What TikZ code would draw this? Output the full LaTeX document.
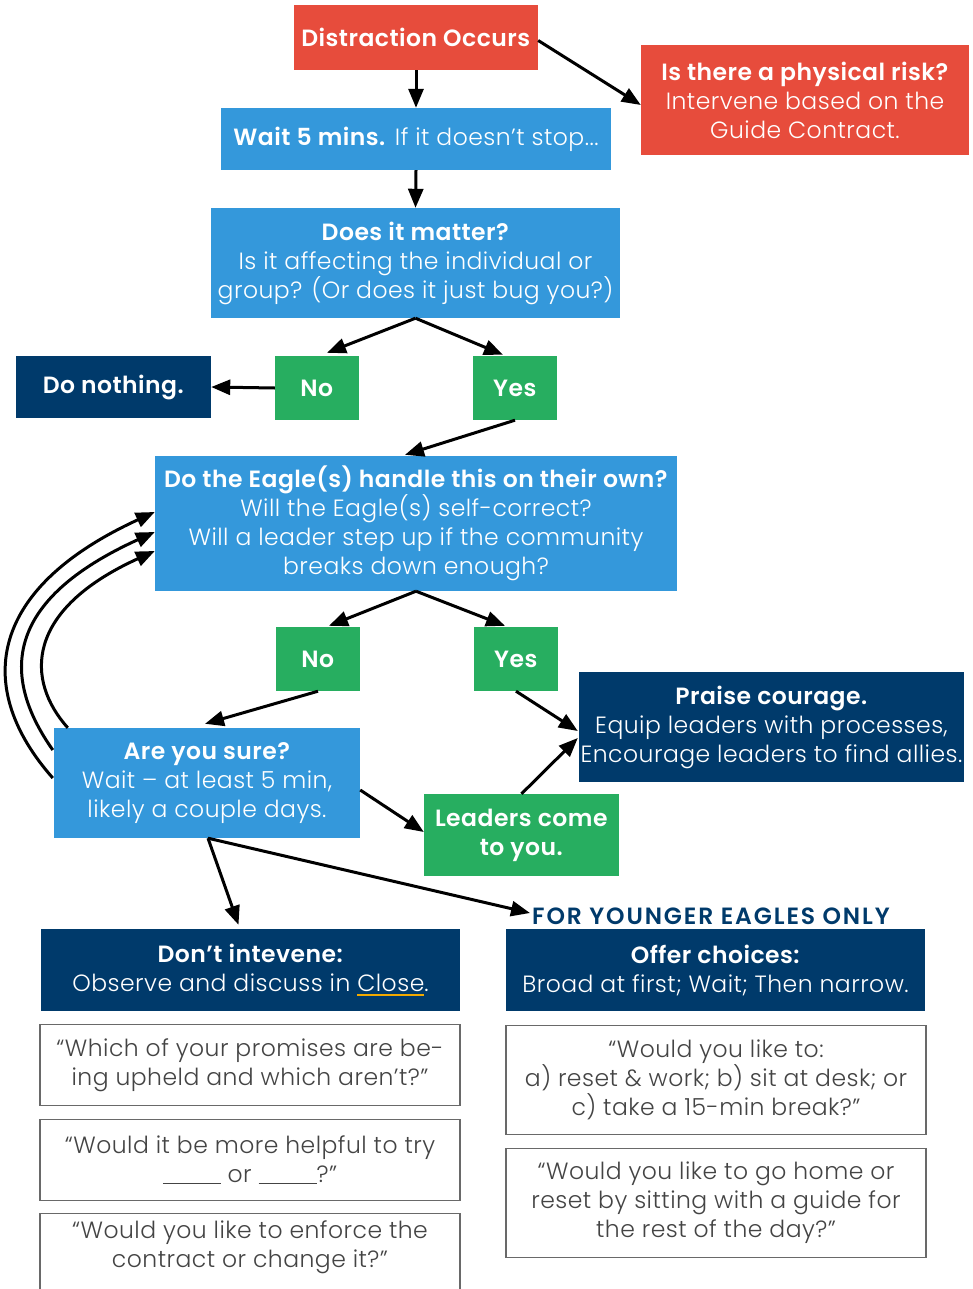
\documentclass[tikz,border=0pt]{standalone}
\usepackage{fontspec}
\setmainfont{Poppins Light}[BoldFont={Poppins SemiBold}, LetterSpace=2]
\usetikzlibrary{arrows.meta}

\definecolor{flred}{HTML}{E74C3C}
\definecolor{flblue}{HTML}{3498DB}
\definecolor{flgreen}{HTML}{27AE60}
\definecolor{flnavy}{HTML}{003A6B}
\definecolor{flgold}{HTML}{F2A900}
\definecolor{flgrey}{HTML}{444444}

\newcommand\goldline[1]{\setbox0\hbox{#1}\rlap{\textcolor{flgold}{\rule[-4pt]{\wd0}{2pt}}}\box0}
\newcommand\blankline{\rule[-2pt]{58pt}{1pt}}

\tikzset{
  base/.style={inner sep=0pt, align=center, font=\fontsize{23.5}{29}\selectfont},
  redbox/.style={base, fill=flred, text=white},
  bluebox/.style={base, fill=flblue, text=white},
  greenbox/.style={base, fill=flgreen, text=white},
  navybox/.style={base, fill=flnavy, text=white},
  quotebox/.style={base, draw=flgrey!80, line width=1.3pt, fill=white, text=flgrey},
  link/.style={line width=3pt, -{Triangle[length=19pt,width=15pt]}},
}

\begin{document}
\begin{tikzpicture}[x=1pt,y=-1pt]
\useasboundingbox (0,0) rectangle (973,1289);

% top of the chart
\node[redbox, minimum width=244, minimum height=65] (dist) at (416,37.5) {\textbf{Distraction Occurs}};
\node[redbox, minimum width=328, minimum height=110] (risk) at (805,100)
  {\textbf{Is there a physical risk?}\\Intervene based on the\\Guide Contract.};
\node[bluebox, minimum width=390, minimum height=62] (wait) at (416,139)
  {\textbf{Wait 5 mins.} If it doesn’t stop...};
\node[bluebox, minimum width=409, minimum height=110] (matter) at (415.5,263)
  {\textbf{Does it matter?}\\Is it affecting the individual or\\group? (Or does it just bug you?)};

% first decision
\node[navybox, minimum width=195, minimum height=62] (nothing) at (113.5,387) {\textbf{Do nothing.}};
\node[greenbox, minimum width=84, minimum height=64] (no1) at (317,388) {\textbf{No}};
\node[greenbox, minimum width=84, minimum height=64] (yes1) at (515,388) {\textbf{Yes}};

% second decision
\node[bluebox, minimum width=522, minimum height=135] (eagle) at (416,523.5)
  {\textbf{Do the Eagle(s) handle this on their own?}\\Will the Eagle(s) self-correct?\\Will a leader step up if the community\\breaks down enough?};
\node[greenbox, minimum width=84, minimum height=64] (no2) at (318,659) {\textbf{No}};
\node[greenbox, minimum width=84, minimum height=64] (yes2) at (516,659) {\textbf{Yes}};
\node[navybox, minimum width=385, minimum height=110] (praise) at (771.5,727)
  {\textbf{Praise courage.}\\Equip leaders with processes,\\Encourage leaders to find allies.};
\node[bluebox, minimum width=306, minimum height=110] (sure) at (207,783)
  {\textbf{Are you sure?}\\Wait – at least 5 min,\\likely a couple days.};
\node[greenbox, minimum width=195, minimum height=82] (leaders) at (521.5,835)
  {\textbf{Leaders come}\\\textbf{to you.}};

% responses
\node[base, text=flnavy, anchor=west] (younger) at (532,916)
  {\addfontfeatures{LetterSpace=8}\textbf{FOR YOUNGER EAGLES ONLY}};
\node[navybox, minimum width=419, minimum height=82] (dont) at (250.5,970)
  {\textbf{Don’t intevene:}\\Observe and discuss in \goldline{Close}.};
\node[navybox, minimum width=419, minimum height=82] (offer) at (715.5,970)
  {\textbf{Offer choices:}\\Broad at first; Wait; Then narrow.};

\node[quotebox, minimum width=420, minimum height=81] (q1) at (250,1065)
  {“Which of your promises are be-\\ing upheld and which aren’t?”};
\node[quotebox, minimum width=420, minimum height=81] (q2) at (250,1160)
  {“Would it be more helpful to try\\\blankline{} or \blankline?”};
\node[quotebox, minimum width=420, minimum height=100] (q3) at (250,1263.5)
  {“Would you like to enforce the\\contract or change it?”\\[10pt]};
\node[quotebox, minimum width=420, minimum height=109] (q4) at (716,1080)
  {“Would you like to:\\a) reset \& work; b) sit at desk; or\\c) take a 15-min break?”};
\node[quotebox, minimum width=420, minimum height=109] (q5) at (716,1203)
  {“Would you like to go home or\\reset by sitting with a guide for\\the rest of the day?”};

% connectors
\draw[link] (dist.south) -- (wait.north);
\draw[link] ([yshift=-3pt]dist.east) -- ([yshift=-5pt]risk.west);
\draw[link] (wait.south) -- (matter.north);
\draw[link] (matter.south) -- ([xshift=10pt,yshift=3pt]no1.north);
\draw[link] (matter.south) -- ([xshift=-12pt,yshift=1pt]yes1.north);
\draw[link] (no1.west) -- (nothing.east);
\draw[link] (yes1.south) -- ([xshift=-11pt,yshift=1pt]eagle.north);
\draw[link] (eagle.south) -- ([xshift=11pt,yshift=1pt]no2.north);
\draw[link] (eagle.south) -- ([xshift=-11pt,yshift=1pt]yes2.north);
\draw[link] (no2.south) -- ([xshift=-2pt,yshift=4pt]sure.north);
\draw[link] (yes2.south) -- ([xshift=-1pt,yshift=-4pt]praise.west);
\draw[link] (leaders.north) -- ([xshift=-1pt,yshift=-11pt]praise.west);
\draw[link] ([yshift=-7pt]sure.east) -- ([yshift=3pt]leaders.west);
\draw[link] ([xshift=1pt]sure.south) -- ([xshift=-12pt,yshift=4pt]dont.north);
\draw[link] ([xshift=1pt]sure.south) -- ([xshift=-2pt,yshift=3pt]younger.west);

% loops back up to the second question
\draw[link] ([xshift=-1pt,yshift=5pt]sure.west) .. controls (-25,690) and (-15,590) .. ([yshift=11.5pt]eagle.west);
\draw[link] ([xshift=-1pt,yshift=33pt]sure.west) .. controls (0,675) and (5,600) .. ([yshift=-8.5pt]eagle.west);
\draw[link] ([xshift=14pt]sure.north west) .. controls (25,680) and (25,610) .. ([yshift=-27.5pt]eagle.west);
\end{tikzpicture}
\end{document}
